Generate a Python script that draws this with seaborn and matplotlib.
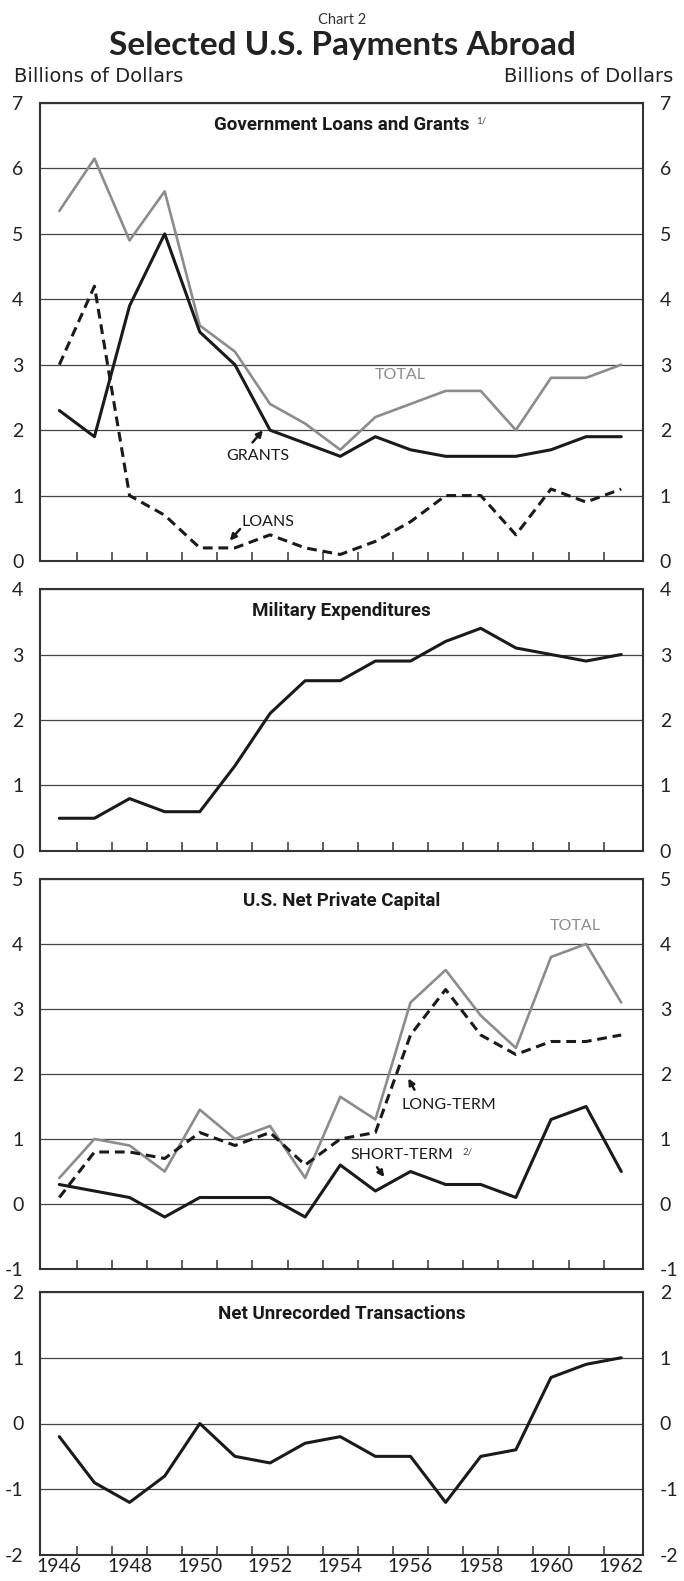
import numpy as np
import pandas as pd
import matplotlib
matplotlib.use('Agg')
import matplotlib.pyplot as plt
import seaborn as sns

# data, billions of dollars
years = list(range(1946, 1963))

gov_total = [5.35, 6.15, 4.9, 5.65, 3.6, 3.2, 2.4, 2.1, 1.7, 2.2, 2.4, 2.6, 2.6, 2.0, 2.8, 2.8, 3.0]
gov_grants = [2.3, 1.9, 3.9, 5.0, 3.5, 3.0, 2.0, 1.8, 1.6, 1.9, 1.7, 1.6, 1.6, 1.6, 1.7, 1.9, 1.9]
gov_loans = [3.0, 4.2, 1.0, 0.7, 0.2, 0.2, 0.4, 0.2, 0.1, 0.3, 0.6, 1.0, 1.0, 0.4, 1.1, 0.9, 1.1]

military = [0.5, 0.5, 0.8, 0.6, 0.6, 1.3, 2.1, 2.6, 2.6, 2.9, 2.9, 3.2, 3.4, 3.1, 3.0, 2.9, 3.0]

priv_total = [0.4, 1.0, 0.9, 0.5, 1.45, 1.0, 1.2, 0.4, 1.65, 1.3, 3.1, 3.6, 2.9, 2.4, 3.8, 4.0, 3.1]
priv_long = [0.1, 0.8, 0.8, 0.7, 1.1, 0.9, 1.1, 0.6, 1.0, 1.1, 2.6, 3.3, 2.6, 2.3, 2.5, 2.5, 2.6]
priv_short = [0.3, 0.2, 0.1, -0.2, 0.1, 0.1, 0.1, -0.2, 0.6, 0.2, 0.5, 0.3, 0.3, 0.1, 1.3, 1.5, 0.5]

unrecorded = [-0.2, -0.9, -1.2, -0.8, 0.0, -0.5, -0.6, -0.3, -0.2, -0.5, -0.5, -1.2, -0.5, -0.4, 0.7, 0.9, 1.0]

label_years = [1946, 1948, 1950, 1952, 1954, 1956, 1958, 1960, 1962]

gov = pd.DataFrame({'year': years, 'TOTAL': gov_total, 'GRANTS': gov_grants, 'LOANS': gov_loans})
mil = pd.DataFrame({'year': years, 'value': military})
priv = pd.DataFrame({'year': years, 'TOTAL': priv_total, 'LONG': priv_long, 'SHORT': priv_short})
unrec = pd.DataFrame({'year': years, 'value': unrecorded})

sns.set_theme(style='white')
plt.rcParams['font.family'] = ['Lato', 'DejaVu Sans']
plt.rcParams['axes.unicode_minus'] = False

W, H = 684, 1581
fig = plt.figure(figsize=(W / 100, H / 100), dpi=100)
fig.patch.set_facecolor('white')

GRAY = '#8c8c8c'
INK = '#1a1a1a'
NARROW = ['Roboto', 'DejaVu Sans']
ANN = 11.5


def make_ax(top, bottom, lo, hi, title):
    ax = fig.add_axes([40 / W, 1 - bottom / H, (643 - 40) / W, (bottom - top) / H])
    ax.set_xlim(1945.45, 1962.62)
    ax.set_ylim(lo, hi)
    ticks = list(range(lo, hi + 1))
    ax.set_yticks(ticks, labels=[str(t) for t in ticks])
    ax.tick_params(axis='y', left=False, right=False, labelleft=True, labelright=True,
                   labelsize=14, pad=6, labelcolor='#222')
    ax.set_xticks(np.arange(1946.5, 1962, 1.0))
    ax.tick_params(axis='x', which='major', direction='in', length=6.5, width=1.1,
                   bottom=True, top=False, labelbottom=False, color='#333')
    ax.grid(axis='y', color='#444', lw=0.9)
    ax.grid(axis='x', visible=False)
    for s in ax.spines.values():
        s.set_linewidth(1.5)
        s.set_color('#333')
    t = ax.text(0.5, 1 - 22 / (bottom - top), title, transform=ax.transAxes, ha='center', va='center',
                fontsize=13.5, fontweight='bold', family=NARROW, color=INK)
    ax.set_xlabel('')
    ax.set_ylabel('')
    return ax, t


def dashed(ax):
    ax.lines[-1].set_dashes((3.2, 1.9))


# Government loans and grants
ax1, t1 = make_ax(103, 561, 0, 7, 'Government Loans and Grants')
sns.lineplot(data=gov, x='year', y='TOTAL', ax=ax1, color=GRAY, lw=1.9)
sns.lineplot(data=gov, x='year', y='LOANS', ax=ax1, color=INK, lw=2.2)
dashed(ax1)
sns.lineplot(data=gov, x='year', y='GRANTS', ax=ax1, color=INK, lw=2.2)
ax1.annotate('1/', xy=(1, 0.75), xycoords=t1, xytext=(5, 0), textcoords='offset points',
             fontsize=7, color='#444', va='center')
ax1.text(1955.7, 2.84, 'TOTAL', fontsize=ANN, color=GRAY, ha='center', va='center')
ax1.text(1951.65, 1.6, 'GRANTS', fontsize=ANN, color=INK, ha='center', va='center')
ax1.annotate('', xy=(1951.85, 2.03), xytext=(1951.45, 1.78),
             arrowprops=dict(arrowstyle='-|>', color=INK, lw=1.8, mutation_scale=9))
ax1.text(1951.2, 0.6, 'LOANS', fontsize=ANN, color=INK, ha='left', va='center')
ax1.annotate('', xy=(1950.8, 0.28), xytext=(1951.2, 0.52),
             arrowprops=dict(arrowstyle='-|>', color=INK, lw=1.8, mutation_scale=9))
ax1.set_xlabel('')
ax1.set_ylabel('')

# Military expenditures
ax2, t2 = make_ax(589, 851, 0, 4, 'Military Expenditures')
sns.lineplot(data=mil, x='year', y='value', ax=ax2, color=INK, lw=2.2)
ax2.set_xlabel('')
ax2.set_ylabel('')

# U.S. net private capital
ax3, t3 = make_ax(879, 1269, -1, 5, 'U.S. Net Private Capital')
sns.lineplot(data=priv, x='year', y='TOTAL', ax=ax3, color=GRAY, lw=1.9)
sns.lineplot(data=priv, x='year', y='LONG', ax=ax3, color=INK, lw=2.2)
dashed(ax3)
sns.lineplot(data=priv, x='year', y='SHORT', ax=ax3, color=INK, lw=2.2)
ax3.text(1960.7, 4.27, 'TOTAL', fontsize=ANN, color=GRAY, ha='center', va='center')
ax3.text(1955.75, 1.53, 'LONG-TERM', fontsize=ANN, color=INK, ha='left', va='center')
ax3.annotate('', xy=(1955.9, 1.97), xytext=(1956.15, 1.72),
             arrowprops=dict(arrowstyle='-|>', color=INK, lw=1.8, mutation_scale=9))
st = ax3.text(1955.75, 0.75, 'SHORT-TERM', fontsize=ANN, color=INK, ha='center', va='center')
ax3.annotate('2/', xy=(1, 0.7), xycoords=st, xytext=(7, 0), textcoords='offset points',
             fontsize=7, color='#444', va='center')
ax3.annotate('', xy=(1955.3, 0.38), xytext=(1955.0, 0.6),
             arrowprops=dict(arrowstyle='-|>', color=INK, lw=1.8, mutation_scale=9))
ax3.set_xlabel('')
ax3.set_ylabel('')

# Net unrecorded transactions
ax4, t4 = make_ax(1292, 1555, -2, 2, 'Net Unrecorded Transactions')
sns.lineplot(data=unrec, x='year', y='value', ax=ax4, color=INK, lw=2.2)
ax4.set_xticks(label_years, labels=[str(y) for y in label_years], minor=True)
ax4.tick_params(axis='x', which='minor', length=0, labelbottom=True, labelsize=14, pad=2.5,
                labelcolor='#222')
ax4.set_xlabel('')
ax4.set_ylabel('')

# headings
fig.text(0.5, 1 - 20 / H, 'Chart 2', ha='center', va='center', fontsize=10.5, color='#333')
fig.text(0.5, 1 - 46 / H, 'Selected U.S. Payments Abroad', ha='center', va='center',
         fontsize=24, fontweight='bold', color='#222')
fig.text(14 / W, 1 - 77 / H, 'Billions of Dollars', ha='left', va='center', fontsize=14,
         color='#222', family=['DejaVu Sans'])
fig.text(673 / W, 1 - 77 / H, 'Billions of Dollars', ha='right', va='center', fontsize=14,
         color='#222', family=['DejaVu Sans'])

fig.savefig('out.png', dpi=100, facecolor='white')
